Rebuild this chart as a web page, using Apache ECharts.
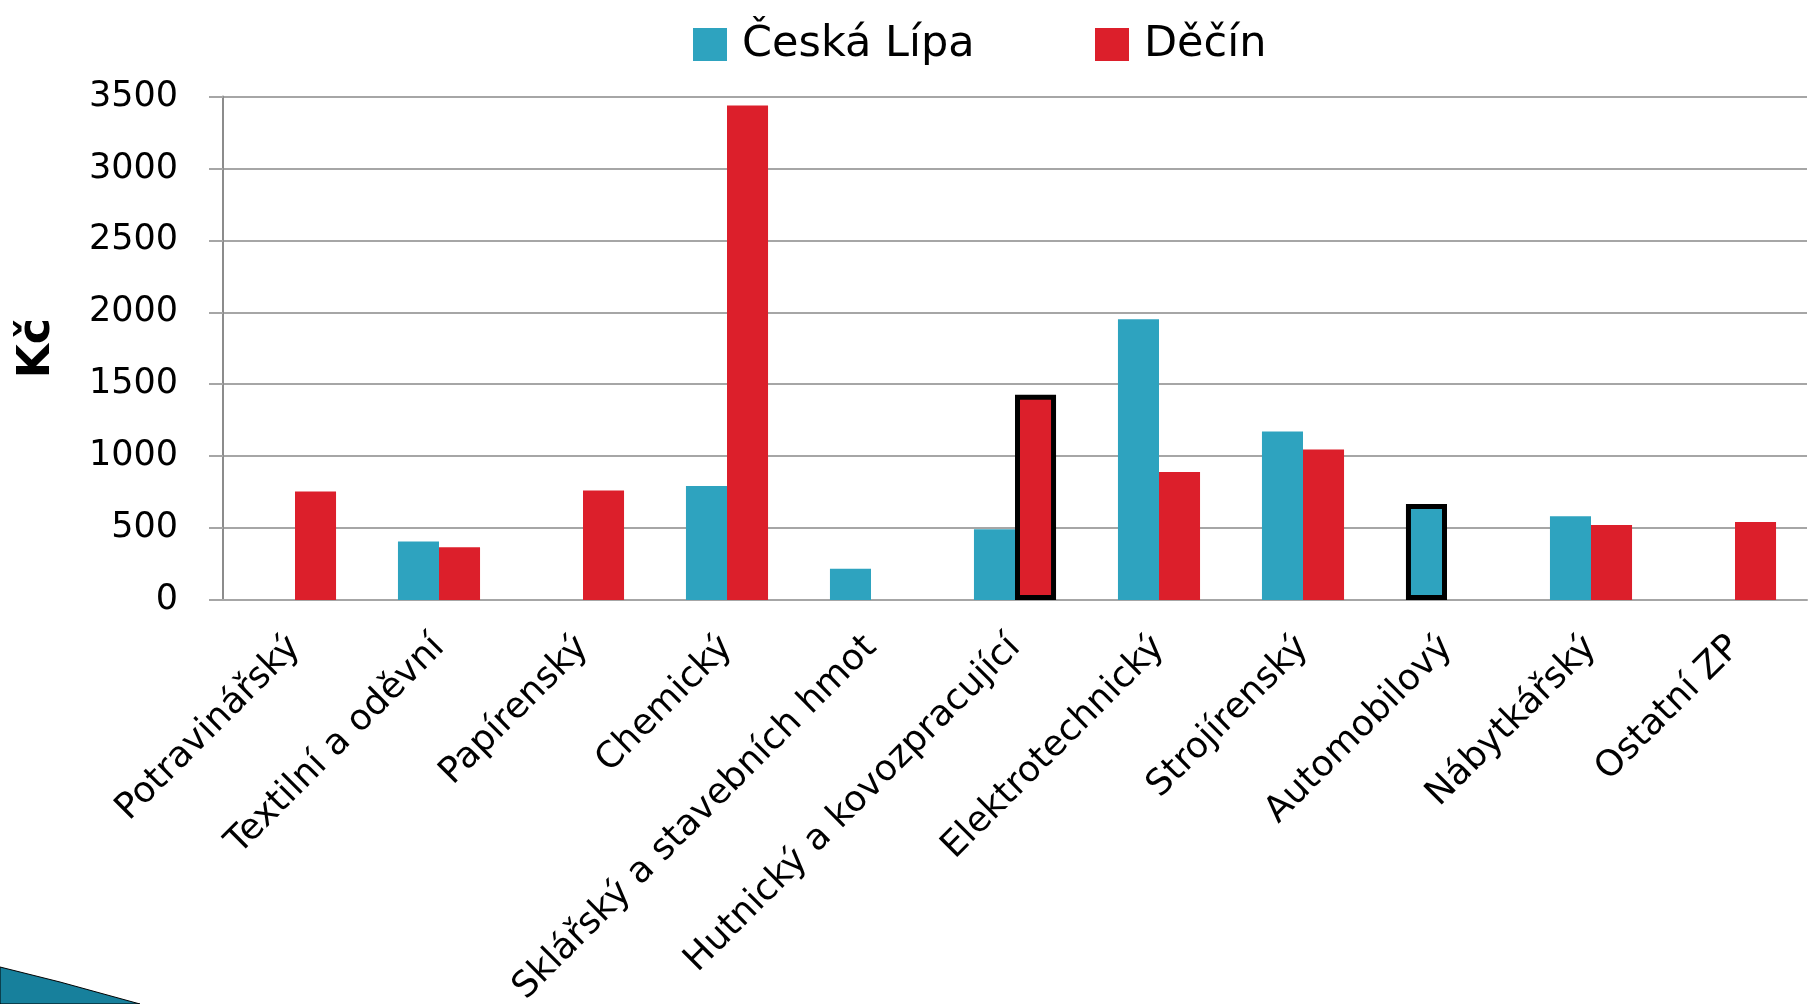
<!DOCTYPE html>
<html>
<head>
<meta charset="utf-8">
<script src="https://cdn.jsdelivr.net/npm/echarts@6/dist/echarts.min.js"></script>
<style>
  html, body { margin: 0; padding: 0; background: #fff; }
  #main { width: 1820px; height: 1004px; }
</style>
</head>
<body>
<div id="main"></div>
<script>
// odvětví
var categories = ['Potravinářský', 'Textilní a oděvní', 'Papírenský', 'Chemický',
  'Sklářský a stavebních hmot', 'Hutnický a kovozpracující', 'Elektrotechnický',
  'Strojírenský', 'Automobilový', 'Nábytkářský', 'Ostatní ZP'];
// Kč, null = bez hodnoty
var ceskaLipa = [null, 407, null, 792, 217, 491, 1951, 1171, 667, 583, null];
var decin = [755, 366, 762, 3437, null, 1427, 889, 1046, null, 521, 542];
// zvýrazněné sloupce (index kategorie)
var highlightCL = [8];
var highlightDC = [5];
var yTicks = { min: 0, max: 3500, interval: 500 };

var font = 'DejaVu Sans';
var blue = '#2ea3bf';
var red = '#dc1f2b';

function toItems(values, highlighted) {
  var out = [];
  for (var i = 0; i < values.length; i++) {
    if (highlighted.indexOf(i) >= 0) {
      out.push({ value: values[i], itemStyle: { borderColor: '#000', borderWidth: 5 } });
    } else {
      out.push(values[i]);
    }
  }
  return out;
}

var legendText = { fontFamily: font, fontSize: 43, color: '#000', padding: [0, 0, 0, 10] };

var option = {
  backgroundColor: '#fff',
  animation: false,
  color: [blue, red],
  legend: [
    { data: ['Česká Lípa'], left: 688, top: 18, itemWidth: 34, itemHeight: 33, icon: 'rect', textStyle: legendText },
    { data: ['Děčín'], left: 1090, top: 18, itemWidth: 34, itemHeight: 33, icon: 'rect', textStyle: legendText }
  ],
  grid: { left: 223, right: 13, top: 96.5, bottom: 404, containLabel: false, outerBoundsMode: 'none' },
  xAxis: {
    type: 'category',
    data: categories,
    axisLine: { show: true, lineStyle: { color: '#a6a6a6', width: 2 } },
    axisTick: { show: false },
    axisLabel: {
      interval: 0,
      rotate: 45,
      margin: 42,
      fontFamily: font,
      fontSize: 36,
      color: '#000'
    }
  },
  yAxis: {
    type: 'value',
    min: yTicks.min,
    max: yTicks.max,
    interval: yTicks.interval,
    name: 'Kč',
    nameLocation: 'middle',
    nameRotate: 90,
    nameGap: 163,
    nameTextStyle: { fontFamily: font, fontSize: 44, fontWeight: 'bold', color: '#000' },
    axisLine: { show: true, lineStyle: { color: '#8c8c8c', width: 2 } },
    axisTick: { show: true, length: 14, lineStyle: { color: '#a6a6a6', width: 2 } },
    splitLine: { lineStyle: { color: '#a6a6a6', width: 2 } },
    axisLabel: {
      margin: 45, fontFamily: font, fontSize: 35, color: '#000',
      formatter: function (v) { return String(v); }
    }
  },
  series: [
    {
      name: 'Česká Lípa',
      type: 'bar',
      barWidth: '28.5%',
      barGap: '0%',
      data: toItems(ceskaLipa, highlightCL)
    },
    {
      name: 'Děčín',
      type: 'bar',
      barWidth: '28.5%',
      barGap: '0%',
      data: toItems(decin, highlightDC)
    }
  ],
  graphic: [
    {
      type: 'polygon',
      shape: { points: [[0, 967], [60, 982], [140, 1004], [0, 1004]] },
      style: { fill: '#17809c', stroke: '#000', lineWidth: 1 }
    }
  ]
};

var chart = echarts.init(document.getElementById('main'));
chart.setOption(option);
</script>
</body>
</html>
